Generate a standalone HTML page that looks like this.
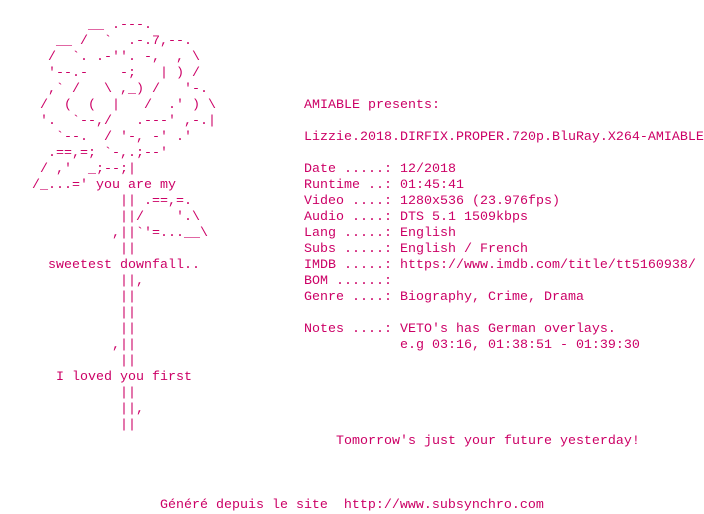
<!DOCTYPE html>
<html><head><meta charset="utf-8"><style>
body{margin:0;background:#fff;width:704px;height:512px;overflow:hidden;position:relative}
pre{position:absolute;margin:0;font-family:"Liberation Mono",monospace;font-size:13.33px;line-height:16px;color:#cc0066;white-space:pre}
</style></head><body>
<pre style="left:32px;top:18px">       __ .---.
   __ /  `  .-.7,--.
  /  `. .-''. -,  , \
  '--.-    -;   | ) /
  ,` /   \ ,_) /   '-.
 /  (  (  |   /  .' ) \
 '.  `--,/   .---' ,-.|
   `--.  / '-, -' .'
  .==,=; `-,.;--'
 / ,'  _;--;|
/_...=' you are my
           || .==,=.
           ||/    '.\
          ,||`'=...__\
           ||
  sweetest downfall..
           ||,
           ||
           ||
           ||
          ,||
           ||
   I loved you first
           ||
           ||,
           ||




                Généré depuis le site  http://www.subsynchro.com</pre>
<pre style="left:304px;top:98px">AMIABLE presents:

Lizzie.2018.DIRFIX.PROPER.720p.BluRay.X264-AMIABLE

Date .....: 12/2018
Runtime ..: 01:45:41
Video ....: 1280x536 (23.976fps)
Audio ....: DTS 5.1 1509kbps
Lang .....: English
Subs .....: English / French
IMDB .....: https://www.imdb.com/title/tt5160938/
BOM ......:
Genre ....: Biography, Crime, Drama

Notes ....: VETO's has German overlays.
            e.g 03:16, 01:38:51 - 01:39:30





    Tomorrow's just your future yesterday!</pre>
</body></html>
